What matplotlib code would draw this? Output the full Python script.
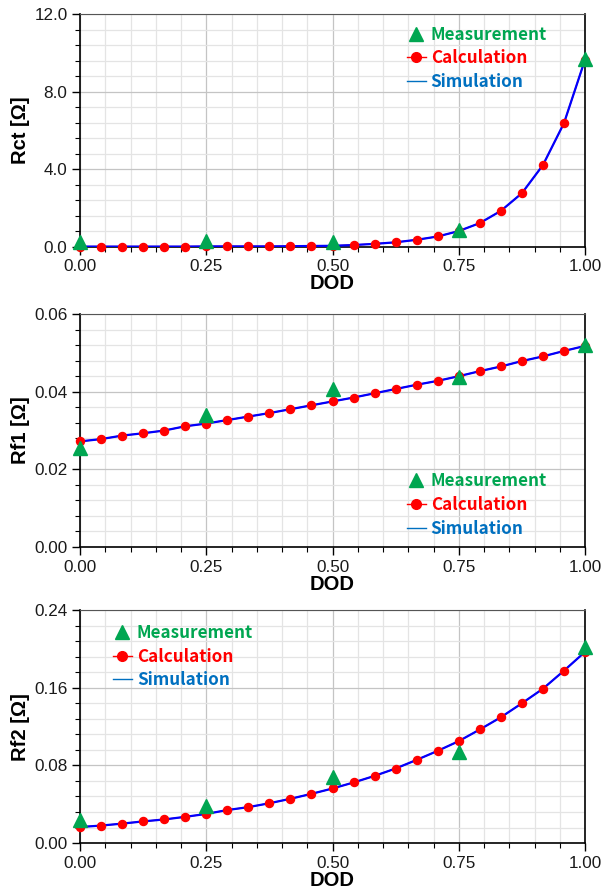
import matplotlib
matplotlib.use('Agg')
import matplotlib.pyplot as plt
from matplotlib.lines import Line2D
from matplotlib.ticker import MultipleLocator, FormatStrFormatter

plt.rcParams['font.family'] = ['Liberation Sans', 'DejaVu Sans']

# ---- data ----
dod_calc = [i / 24 for i in range(25)]
dod_meas = [0.0, 0.25, 0.5, 0.75, 1.0]

rct_calc = [0.02, 0.02, 0.02, 0.02, 0.02, 0.02, 0.03, 0.03, 0.03, 0.03, 0.04, 0.05,
            0.06, 0.10, 0.16, 0.24, 0.37, 0.54, 0.82, 1.23, 1.86, 2.77, 4.22, 6.38, 9.65]
rct_meas = [0.25, 0.30, 0.28, 0.85, 9.7]

rf1_calc = [0.0272, 0.0278, 0.0287, 0.0293, 0.0300, 0.0311, 0.0318, 0.0327, 0.0336,
            0.0345, 0.0355, 0.0365, 0.0375, 0.0385, 0.0396, 0.0407, 0.0418, 0.0428,
            0.0440, 0.0453, 0.0465, 0.0479, 0.0491, 0.0505, 0.0518]
rf1_meas = [0.0255, 0.0340, 0.0407, 0.0437, 0.0520]

rf2_calc = [0.0165, 0.0180, 0.0200, 0.0223, 0.0243, 0.0270, 0.0300, 0.0340, 0.0370,
            0.0410, 0.0456, 0.0507, 0.0562, 0.0624, 0.0692, 0.0768, 0.0857, 0.0950,
            0.1050, 0.1170, 0.1296, 0.1440, 0.1590, 0.1776, 0.1970]
rf2_meas = [0.0233, 0.0380, 0.0680, 0.0936, 0.2016]

panels = [
    ('Rct [\u03a9]', rct_calc, rct_meas, 12.0, 4.0, 0.8, '%.1f', 'upper right', (0.955, 1.016)),
    ('Rf1 [\u03a9]', rf1_calc, rf1_meas, 0.06, 0.02, 0.004, '%.2f', 'lower right', (0.955, -0.026)),
    ('Rf2 [\u03a9]', rf2_calc, rf2_meas, 0.24, 0.08, 0.016, '%.2f', 'upper left', (0.035, 1.007)),
]

c_meas = '#00A651'
c_calc = '#FF0000'
c_sim = '#0000FF'
c_sim_leg = '#0070C0'

fig = plt.figure(figsize=(6.03, 8.89), dpi=100)
bottoms = [0.7222, 0.3847, 0.0517]

for (ylab, calc, meas, ymax, ymaj, ymin, fmt, loc, anchor), b in zip(panels, bottoms):
    ax = fig.add_axes([0.1327, b, 0.8375, 0.262])
    ax.set_xlim(0, 1)
    ax.set_ylim(0, ymax)
    ax.xaxis.set_major_locator(MultipleLocator(0.25))
    ax.xaxis.set_minor_locator(MultipleLocator(0.05))
    ax.yaxis.set_major_locator(MultipleLocator(ymaj))
    ax.yaxis.set_minor_locator(MultipleLocator(ymin))
    ax.xaxis.set_major_formatter(FormatStrFormatter('%.2f'))
    ax.yaxis.set_major_formatter(FormatStrFormatter(fmt))
    ax.grid(which='major', color='#c4c4c4', lw=0.9)
    ax.grid(which='minor', color='#e4e4e4', lw=0.9)
    ax.set_axisbelow(True)
    ax.tick_params(which='major', length=6, width=1, labelsize=12.3, direction='out',
                   pad=3, labelcolor='#1a1a1a')
    ax.tick_params(which='minor', length=3.5, width=0.8, direction='out')
    ax.spines['top'].set_color('#555555')
    for s in ['left', 'bottom', 'right']:
        ax.spines[s].set_linewidth(1.2)
        ax.spines[s].set_color('black')

    ax.plot(dod_calc, calc, '-', color=c_calc, lw=1, zorder=2)
    ax.plot(dod_calc, calc, '-', color=c_sim, lw=1.6, zorder=3)
    ax.plot(dod_calc, calc, 'o', color=c_calc, ms=5.8, zorder=4, clip_on=False)
    ax.plot(dod_meas, meas, '^', color=c_meas, ms=10.5, zorder=5, clip_on=False)

    ax.set_xlabel('DOD', fontsize=14.5, fontweight='bold', labelpad=0)
    ax.set_ylabel(ylab, fontsize=14.5, fontweight='bold', labelpad=3)

    handles = [
        Line2D([], [], ls='none', marker='^', color=c_meas, ms=10),
        Line2D([], [], ls='-', marker='o', color=c_calc, ms=7, lw=1),
        Line2D([], [], ls='-', color=c_sim_leg, lw=1),
    ]
    leg = ax.legend(handles, ['Measurement', 'Calculation', 'Simulation'], loc=loc,
                    bbox_to_anchor=anchor, frameon=False, handlelength=1.1,
                    handletextpad=0.3, labelspacing=0.33,
                    prop={'family': ['Noto Sans CJK KR', 'DejaVu Sans'], 'weight': 'bold', 'size': 12.3})
    for t, c in zip(leg.get_texts(), [c_meas, c_calc, c_sim_leg]):
        t.set_color(c)

fig.savefig('out.png', dpi=100)
